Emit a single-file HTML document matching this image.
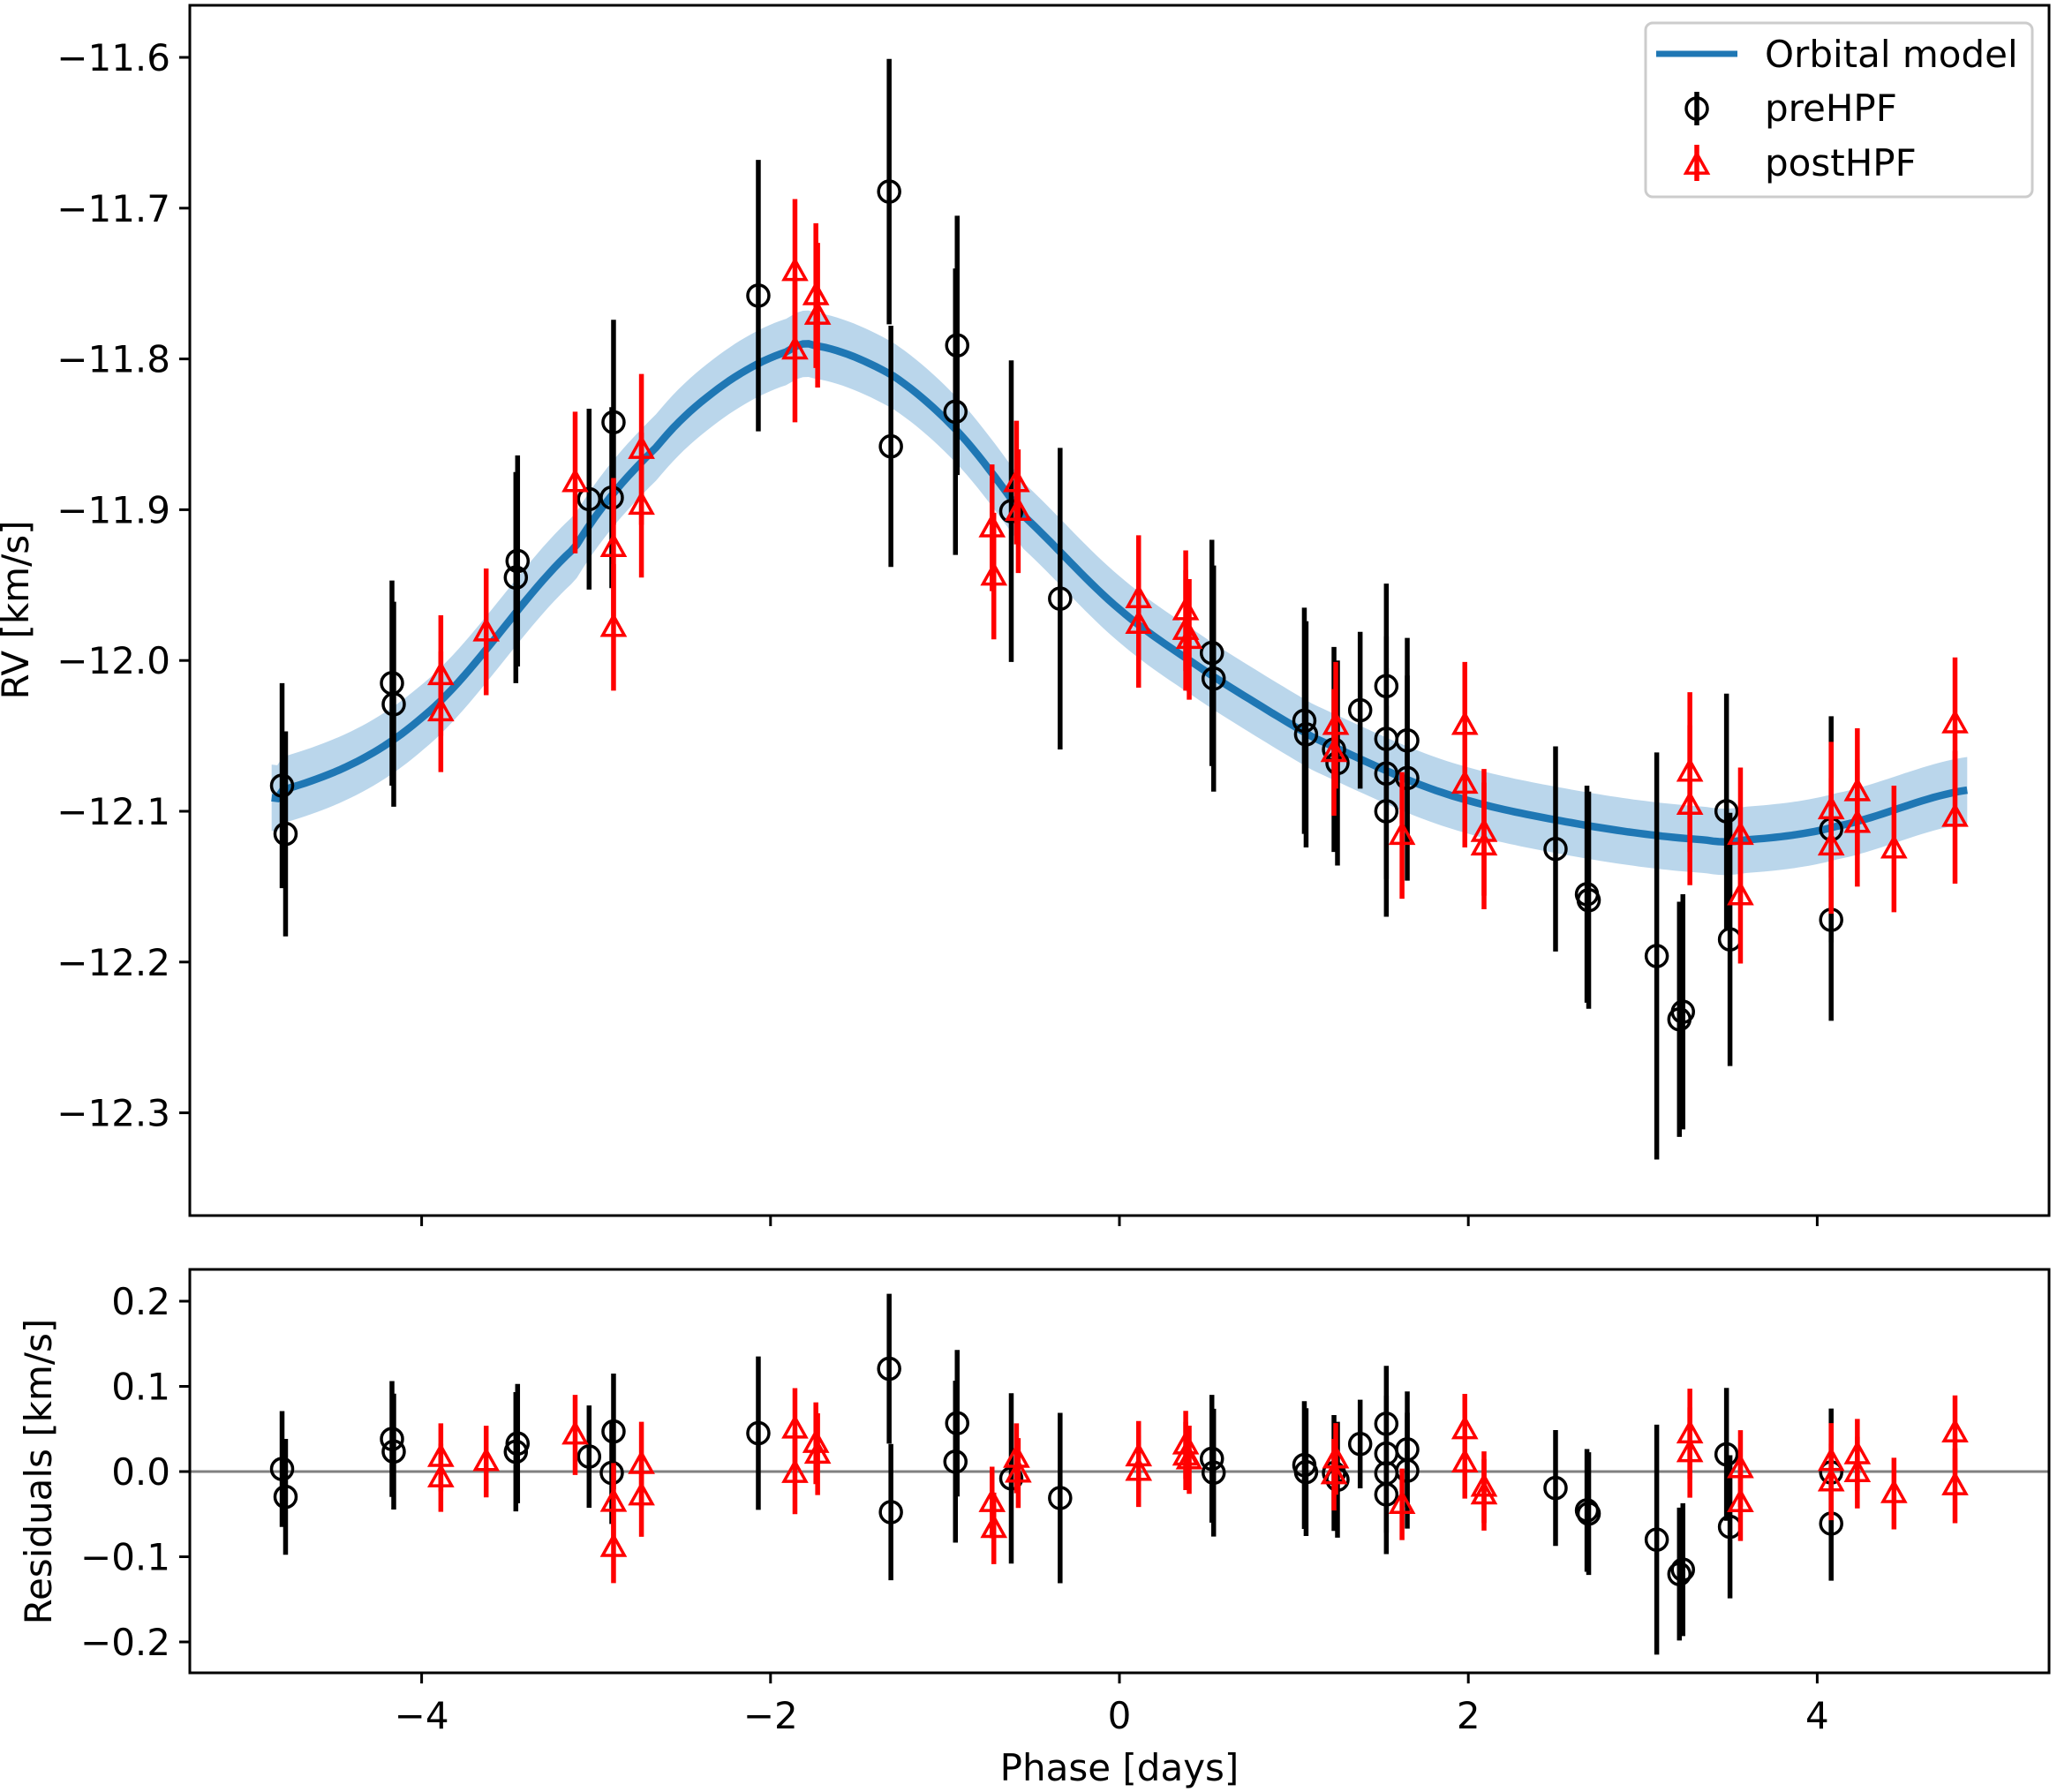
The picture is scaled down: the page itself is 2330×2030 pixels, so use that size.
<!DOCTYPE html>
<html><head><meta charset="utf-8">
<style>
html,body{margin:0;padding:0;background:#fff;}
svg{display:block;}
text{font-family:"DejaVu Sans","Liberation Sans",sans-serif;fill:#000;}
</style></head>
<body>
<svg id="chart" width="2330" height="2030" viewBox="0 0 2330 2030" xmlns="http://www.w3.org/2000/svg"></svg>
<script>
// ---- data ----
const prePhase = [-4.80,-4.78,-4.17,-4.16,-3.46,-3.45,-3.04,-2.91,-2.90,-2.07,-1.32,-1.31,-0.93,-0.94,-0.62,-0.34,0.53,0.54,1.06,1.07,1.23,1.25,1.38,1.53,1.53,1.53,1.53,1.65,1.65,2.50,2.68,2.69,3.08,3.23,3.21,3.48,3.50,4.08,4.08];
const preRV = [-12.083,-12.115,-12.015,-12.029,-11.945,-11.934,-11.893,-11.892,-11.842,-11.758,-11.689,-11.858,-11.791,-11.835,-11.901,-11.959,-11.995,-12.012,-12.040,-12.049,-12.059,-12.068,-12.033,-12.017,-12.052,-12.075,-12.100,-12.053,-12.078,-12.125,-12.155,-12.159,-12.196,-12.233,-12.238,-12.100,-12.185,-12.112,-12.172];
const preErr = [0.068,0.068,0.068,0.068,0.07,0.07,0.06,0.06,0.068,0.09,0.088,0.08,0.086,0.095,0.1,0.1,0.075,0.075,0.075,0.075,0.068,0.068,0.052,0.068,0.068,0.07,0.07,0.068,0.068,0.068,0.072,0.072,0.135,0.078,0.078,0.078,0.084,0.075,0.067];
const postPhase = [-3.89,-3.89,-3.63,-3.12,-2.90,-2.90,-2.74,-2.74,-1.86,-1.86,-1.74,-1.73,-0.73,-0.72,-0.59,-0.58,0.11,0.11,0.38,0.38,0.40,1.24,1.23,1.62,1.98,1.98,2.09,2.09,3.27,3.27,3.56,3.56,4.08,4.08,4.23,4.23,4.44,4.79,4.79];
const postRV = [-12.010,-12.034,-11.981,-11.882,-11.925,-11.978,-11.860,-11.897,-11.742,-11.794,-11.758,-11.771,-11.912,-11.944,-11.882,-11.901,-11.959,-11.976,-11.967,-11.980,-11.986,-12.043,-12.061,-12.116,-12.043,-12.082,-12.114,-12.123,-12.074,-12.096,-12.116,-12.156,-12.099,-12.123,-12.087,-12.108,-12.125,-12.042,-12.104];
const postErr = [0.04,0.04,0.042,0.047,0.046,0.042,0.05,0.048,0.048,0.048,0.048,0.048,0.042,0.042,0.041,0.041,0.042,0.042,0.04,0.04,0.04,0.042,0.042,0.042,0.042,0.042,0.042,0.042,0.053,0.053,0.045,0.045,0.045,0.045,0.042,0.042,0.042,0.044,0.044];
const modelPhase = [-4.86,-4.80,-4.00,-3.12,-2.65,-2.28,-1.90,-1.75,-1.30,-0.92,-0.55,0.00,0.53,1.11,1.86,2.61,3.36,3.59,4.11,4.86];
const modelRV = [-12.091,-12.086,-12.038,-11.925,-11.858,-11.818,-11.795,-11.791,-11.811,-11.849,-11.904,-11.966,-12.010,-12.051,-12.088,-12.108,-12.119,-12.119,-12.110,-12.086];
const modelBand = 0.022;
const xTicks = [-4,-2,0,2,4];
const xTickLabels = ["\u22124","\u22122","0","2","4"];
const topTicks = [-11.6,-11.7,-11.8,-11.9,-12.0,-12.1,-12.2,-12.3];
const topTickLabels = ["\u221211.6","\u221211.7","\u221211.8","\u221211.9","\u221212.0","\u221212.1","\u221212.2","\u221212.3"];
const resTicks = [0.2,0.1,0.0,-0.1,-0.2];
const resTickLabels = ["0.2","0.1","0.0","\u22120.1","\u22120.2"];

// ---- layout ----
const L=215,R=2321,T1=6,B1=1377,T2=1438,B2=1895;
const FS=42;
const X = p => 1268 + p*197.6;
const Y1 = v => 65 + (-11.6 - v)/0.1*170.8;
const Y2 = r => 1667 - r/0.1*96.5;
const NS="http://www.w3.org/2000/svg";
const svg=document.getElementById('chart');
function mk(tag, attrs, parent){const e=document.createElementNS(NS,tag);for(const k in attrs)e.setAttribute(k,attrs[k]);(parent||svg).appendChild(e);return e;}

function modelAt(p){
  const n=modelPhase.length;
  let i=0; while(i<n-2 && p>modelPhase[i+1]) i++;
  const p0=modelRV[Math.max(i-1,0)],p1=modelRV[i],p2=modelRV[i+1],p3=modelRV[Math.min(i+2,n-1)];
  const x1=modelPhase[i],x2=modelPhase[i+1];
  let t=(p-x1)/(x2-x1); t=Math.max(0,Math.min(1,t));
  const t2=t*t,t3=t2*t;
  return 0.5*((2*p1)+(-p0+p2)*t+(2*p0-5*p1+4*p2-p3)*t2+(-p0+3*p1-3*p2+p3)*t3);
}

const defs=mk('defs',{});
const c1=mk('clipPath',{id:'c1'},defs); mk('rect',{x:L,y:T1,width:R-L,height:B1-T1},c1);
const c2=mk('clipPath',{id:'c2'},defs); mk('rect',{x:L,y:T2,width:R-L,height:B2-T2},c2);

// ---- top panel ----
const g1=mk('g',{'clip-path':'url(#c1)'});


const p0=modelPhase[0],pN=modelPhase[modelPhase.length-1];
let up=[],dn=[],mid=[];
for(let k=0;k<=300;k++){const p=p0+(pN-p0)*k/300;const m=modelAt(p);up.push(X(p).toFixed(1)+','+Y1(m+modelBand).toFixed(1));dn.push(X(p).toFixed(1)+','+Y1(m-modelBand).toFixed(1));mid.push(X(p).toFixed(1)+','+Y1(m).toFixed(1));}
const band=mk('polygon',{points:up.concat(dn.reverse()).join(' '),fill:'#bad6eb'},g1);


const line=mk('polyline',{points:mid.join(' '),fill:'none',stroke:'#1f77b4','stroke-width':8.5},g1);



function tri(cx,cy,s){return `${cx},${cy-s} ${cx-s*0.95},${cy+s*0.7} ${cx+s*0.95},${cy+s*0.7}`;}
function drawPoints(g,phases,vals,errs,yf,color,kind){
  for(let i=0;i<phases.length;i++){
    const x=X(phases[i]),y=yf(vals[i]),e=errs[i];
    const eb=mk('line',{x1:x,x2:x,y1:yf(vals[i]+e),y2:yf(vals[i]-e),stroke:color,'stroke-width':5.5},g);
    
    
    let m;
    if(kind==='prehpf'){m=mk('circle',{cx:x,cy:y,r:12,fill:'none',stroke:color,'stroke-width':3.5},g);}
    else{m=mk('polygon',{points:tri(x,y,13),fill:'none',stroke:color,'stroke-width':3.5},g);}
    
    
  }
}
drawPoints(g1,prePhase,preRV,preErr,Y1,'#000','prehpf');
drawPoints(g1,postPhase,postRV,postErr,Y1,'#ff0000','posthpf');

// ---- residual panel ----
const g2=mk('g',{'clip-path':'url(#c2)'});


const zl=mk('line',{x1:L,x2:R,y1:Y2(0),y2:Y2(0),stroke:'#808080','stroke-width':3},g2);


const preRes=preRV.map((v,i)=>v-modelAt(prePhase[i]));
const postRes=postRV.map((v,i)=>v-modelAt(postPhase[i]));
drawPoints(g2,prePhase,preRes,preErr,Y2,'#000','prehpf');
drawPoints(g2,postPhase,postRes,postErr,Y2,'#ff0000','posthpf');

// ---- axes frames ----
const f1=mk('rect',{x:L,y:T1,width:R-L,height:B1-T1,fill:'none',stroke:'#000','stroke-width':3});


const f2=mk('rect',{x:L,y:T2,width:R-L,height:B2-T2,fill:'none',stroke:'#000','stroke-width':3});



xTicks.forEach((t,i)=>{
  const a=mk('line',{x1:X(t),x2:X(t),y1:B1,y2:B1+12,stroke:'#000','stroke-width':3});
  
  
  const b=mk('line',{x1:X(t),x2:X(t),y1:B2,y2:B2+12,stroke:'#000','stroke-width':3});
  
  
  const tx=mk('text',{x:X(t),y:1958,'font-size':FS,'text-anchor':'middle'});
  tx.textContent=xTickLabels[i];
  
  
});
topTicks.forEach((t,i)=>{
  const a=mk('line',{x1:L-12,x2:L,y1:Y1(t),y2:Y1(t),stroke:'#000','stroke-width':3});
  
  
  const tx=mk('text',{x:L-22,y:Y1(t)+15,'font-size':FS,'text-anchor':'end'});
  tx.textContent=topTickLabels[i];
  
  
});
resTicks.forEach((t,i)=>{
  const a=mk('line',{x1:L-12,x2:L,y1:Y2(t),y2:Y2(t),stroke:'#000','stroke-width':3});
  
  
  const tx=mk('text',{x:L-22,y:Y2(t)+15,'font-size':FS,'text-anchor':'end'});
  tx.textContent=resTickLabels[i];
  
  
});

const xt=mk('text',{x:1268,y:2017,'font-size':FS,'text-anchor':'middle'});
xt.textContent='Phase [days]';


const yt=mk('text',{x:0,y:0,'font-size':FS,'text-anchor':'middle',transform:'translate(32,691) rotate(-90)'});
yt.textContent='RV [km/s]';


const rt=mk('text',{x:0,y:0,'font-size':FS,'text-anchor':'middle',transform:'translate(58,1667) rotate(-90)'});
rt.textContent='Residuals [km/s]';



// legend
const lg=mk('g',{});


mk('rect',{x:1864,y:26,width:438,height:197,rx:8,fill:'#fff','fill-opacity':0.8,stroke:'#cccccc','stroke-width':3},lg);
const ll=mk('line',{x1:1876,x2:1968,y1:61,y2:61,stroke:'#1f77b4','stroke-width':7},lg);


const t1=mk('text',{x:1999,y:76,'font-size':FS},lg);
t1.textContent='Orbital model';


mk('line',{x1:1922,x2:1922,y1:104,y2:142,stroke:'#000','stroke-width':5.5},lg);
mk('circle',{cx:1922,cy:123,r:12,fill:'none',stroke:'#000','stroke-width':3.5},lg);
const t2=mk('text',{x:1999,y:137,'font-size':FS},lg);
t2.textContent='preHPF';


mk('line',{x1:1922,x2:1922,y1:164,y2:205,stroke:'#ff0000','stroke-width':5.5},lg);
mk('polygon',{points:tri(1922,187,13),fill:'none',stroke:'#ff0000','stroke-width':3.5},lg);
const t3=mk('text',{x:1999,y:199,'font-size':FS},lg);
t3.textContent='postHPF';


</script>
</body></html>
